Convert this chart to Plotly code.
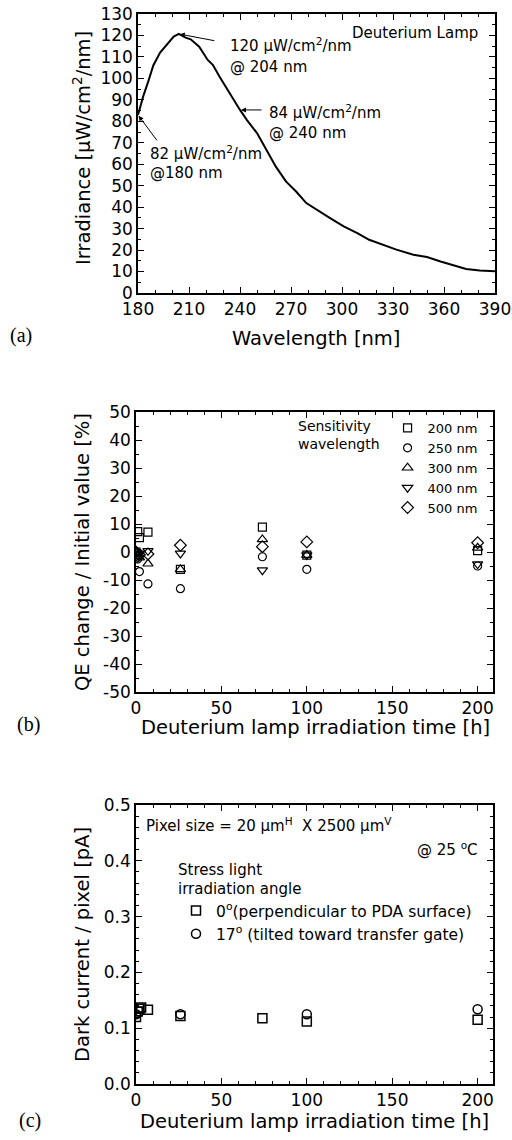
import plotly.graph_objects as go

W, H = 512, 1140

# ---------------- data ----------------
# (a) deuterium lamp spectrum
wavelength_nm = [180, 183, 186, 189, 193, 197, 201, 204, 208, 211, 216, 221, 224, 228, 234,
                 240, 244, 250, 256, 261, 267, 273, 279, 285, 293, 301, 309, 316, 324, 332,
                 342, 350, 358, 366, 373, 381, 390]
irradiance = [83, 91.5, 98.5, 106, 112, 116, 119.5, 120.7, 119, 118.2, 114.8, 108.6, 106.3, 100.8, 93,
              85.3, 80.7, 74.5, 66, 59, 52, 47.3, 41.9, 38.8, 34.9, 31, 27.9, 24.8, 22.5, 20.2,
              17.8, 16.8, 14.7, 12.9, 11.2, 10.5, 10.1]
x_ticks_a = [180, 210, 240, 270, 300, 330, 360, 390]
y_ticks_a = list(range(0, 131, 10))

# (b) QE change vs irradiation time
time_b = [0, 1, 2, 7, 26, 74, 100, 200]
qe_200 = [0, 7.3, 5.1, 7.1, -6.2, 8.9, -1.1, 0.5]
qe_250 = [0, -2.5, -7.0, -11.4, -13.1, -1.7, -6.2, -5.0]
qe_300 = [0, -1.5, -2.0, -4.2, -6.2, 4.5, -1.1, 1.5]
qe_400 = [0, -1.0, -0.5, 0.4, -0.5, -6.5, -1.1, -4.3]
qe_500 = [0, -1.5, -1.0, -0.7, 2.4, 1.9, 3.6, 3.3]
y_ticks_b = list(range(-50, 51, 10))
y_ticktext_b = [str(v) for v in y_ticks_b]
x_ticks_t = [0, 50, 100, 150, 200]

# (c) dark current vs irradiation time
time_c0 = [0, 1, 2, 3, 7, 26, 74, 100, 200]
dark_0deg = [0.120, 0.130, 0.135, 0.137, 0.133, 0.122, 0.118, 0.112, 0.115]
time_c17 = [0, 2, 26, 100, 200]
dark_17deg = [0.125, 0.130, 0.125, 0.125, 0.134]
y_ticks_c = [0.0, 0.1, 0.2, 0.3, 0.4, 0.5]

# ---------------- helpers ----------------
def px(x):
    return x / W

def py(y):
    return 1 - y / H

FONT = "DejaVu Sans"
TICKF = dict(family=FONT, size=17, color="black")

def axis(domain, rng, tickvals, dtick_minor, anchor, ticktext=None, fmt=None):
    d = dict(domain=domain, range=rng, showline=True, linecolor="black", linewidth=1.5,
             mirror="allticks", ticks="inside", ticklen=6, tickwidth=1.2, tickcolor="black",
             showgrid=False, zeroline=False, tickfont=TICKF, anchor=anchor, automargin=False,
             tickmode="array", tickvals=tickvals,
             minor=dict(ticks="inside", ticklen=3, tickwidth=1, tickcolor="black",
                        dtick=dtick_minor, showgrid=False))
    if ticktext is not None:
        d["ticktext"] = ticktext
    if fmt is not None:
        d["tickformat"] = fmt
    return d

fig = go.Figure()

# (a)
fig.add_trace(go.Scatter(x=wavelength_nm, y=irradiance, mode="lines",
                         line=dict(color="black", width=2), showlegend=False,
                         xaxis="x", yaxis="y"))

# (b)
series_b = [("200 nm", qe_200, "square-open", 8), ("250 nm", qe_250, "circle-open", 8),
            ("300 nm", qe_300, "triangle-up-open", 9), ("400 nm", qe_400, "triangle-down-open", 9),
            ("500 nm", qe_500, "diamond-open", 9)]
for name, vals, sym, sz in series_b:
    fig.add_trace(go.Scatter(x=time_b, y=vals, mode="markers", name=name,
                             marker=dict(symbol=sym, size=sz, color="black",
                                         line=dict(color="black", width=1.2)),
                             xaxis="x2", yaxis="y2", legend="legend"))

# (c)
fig.add_trace(go.Scatter(x=time_c0, y=dark_0deg, mode="markers",
                         name="0<sup>o</sup>(perpendicular to PDA surface)",
                         marker=dict(symbol="square-open", size=9, color="black",
                                     line=dict(color="black", width=1.5)),
                         xaxis="x3", yaxis="y3", legend="legend2"))
fig.add_trace(go.Scatter(x=time_c17, y=dark_17deg, mode="markers",
                         name="17<sup>o</sup> (tilted toward transfer gate)",
                         marker=dict(symbol="circle-open", size=9, color="black",
                                     line=dict(color="black", width=1.5)),
                         xaxis="x3", yaxis="y3", legend="legend2"))

layout = dict(
    width=W, height=H, margin=dict(l=0, r=0, t=0, b=0, autoexpand=False),
    paper_bgcolor="white", plot_bgcolor="white",
    font=dict(family=FONT, color="black"),
    xaxis=axis([px(138), px(495)], [180, 390], x_ticks_a, 10, "y"),
    yaxis=axis([py(293), py(14)], [0, 130], y_ticks_a, 5, "x"),
    xaxis2=axis([px(136), px(493)], [0, 209], x_ticks_t, 10, "y2"),
    yaxis2=axis([py(692), py(412)], [-50, 50], y_ticks_b, 5, "x2", ticktext=y_ticktext_b),
    xaxis3=axis([px(136), px(493)], [0, 209], x_ticks_t, 10, "y3"),
    yaxis3=axis([py(1084), py(805)], [0, 0.5], y_ticks_c, 0.02, "x3", fmt=".1f"),
    legend=dict(x=px(296), y=py(413), xanchor="left", yanchor="top",
                bgcolor="rgba(0,0,0,0)", font=dict(family=FONT, size=13),
                title=dict(text="Sensitivity<br>wavelength", side="left",
                           font=dict(family=FONT, size=14)),
                itemclick=False),
    legend2=dict(x=px(176), y=py(855), xanchor="left", yanchor="top",
                 bgcolor="rgba(0,0,0,0)", font=dict(family=FONT, size=15.5),
                 title=dict(text="Stress light<br>irradiation angle", side="top",
                            font=dict(family=FONT, size=15)),
                 itemclick=False),
)
fig.update_layout(**layout)

ann = []
TF = 19.5

def text(x, y, s, size=15, xa="left", ya="middle", family=FONT, angle=0):
    ann.append(dict(x=px(x), y=py(y), xref="paper", yref="paper", text=s, showarrow=False,
                    xanchor=xa, yanchor=ya, textangle=angle,
                    font=dict(family=family, size=size, color="black")))

# axis titles
text(316, 338, "Wavelength [nm]", TF, xa="center")
text(82, 148, "Irradiance [\u03bcW/cm<sup>2</sup>/nm]", TF, xa="center", angle=-90)
text(315, 727, "Deuterium lamp irradiation time [h]", TF, xa="center")
text(82, 552, "QE change / Initial value [%]", TF, xa="center", angle=-90)
text(314, 1121, "Deuterium lamp irradiation time [h]", TF, xa="center")
text(82, 945, "Dark current / pixel [pA]", TF, xa="center", angle=-90)

# panel labels
text(21, 335, "(a)", 20, xa="center", family="Liberation Serif")
text(28, 724, "(b)", 20, xa="center", family="Liberation Serif")
text(30, 1120, "(c)", 20, xa="center", family="Liberation Serif")

# panel (a) notes
text(480, 33, "Deuterium Lamp", 15, xa="right")
text(228, 45, "120 \u03bcW/cm<sup>2</sup>/nm", 15)
text(228, 67, "@ 204 nm", 15)
text(267, 112, "84 \u03bcW/cm<sup>2</sup>/nm", 15)
text(267, 133, "@ 240 nm", 15)
text(148, 153, "82 \u03bcW/cm<sup>2</sup>/nm", 15)
text(148, 173, "@180 nm", 15)

# arrows pointing at data points
ipk = irradiance.index(max(irradiance))
i240 = wavelength_nm.index(240)
i180 = wavelength_nm.index(180)
for idx, axp, ayp in [(ipk, 37, 7), (i240, 23, 0), (i180, 20, 27)]:
    ann.append(dict(x=wavelength_nm[idx], y=irradiance[idx], xref="x", yref="y", text="",
                    showarrow=True, arrowhead=2, arrowsize=1, arrowwidth=1, arrowcolor="black",
                    ax=axp, ay=ayp, standoff=1))

# panel (c) notes
text(144, 825, "Pixel size = 20 \u03bcm<sup>H</sup>  X 2500 \u03bcm<sup>V</sup>", 15)
text(480, 849, "@ 25 <sup>o</sup>C", 15, xa="right")

fig.update_layout(annotations=ann)
fig.write_html("out.html", config={"displayModeBar": False},
               post_script="document.body.style.margin='0px';document.body.style.overflow='hidden';")
